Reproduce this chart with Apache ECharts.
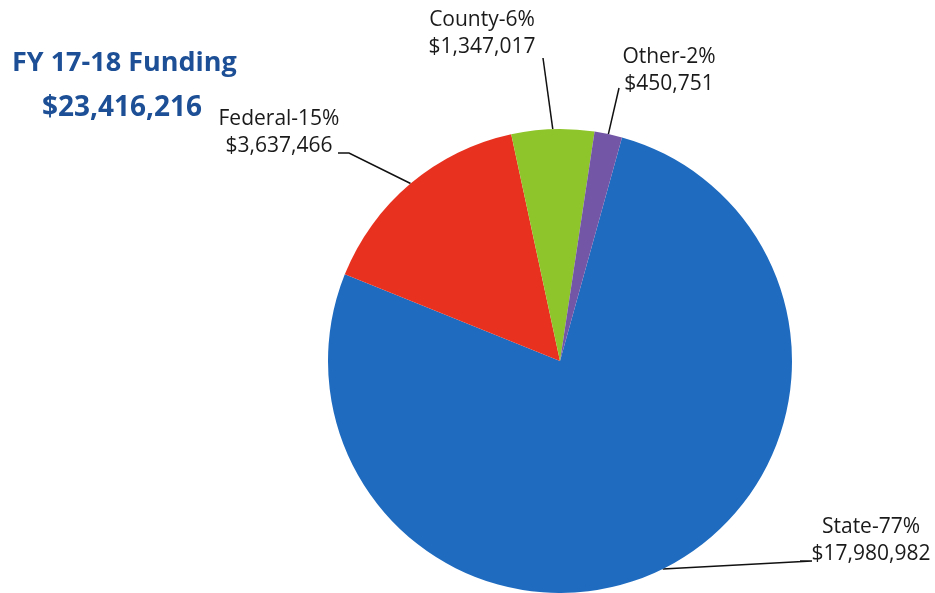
<!DOCTYPE html>
<html><head><meta charset="utf-8">
<script src="https://cdn.jsdelivr.net/npm/echarts@6/dist/echarts.min.js"></script>
<style>html,body{margin:0;padding:0;background:#fff}#c{width:935px;height:593px}</style>
</head><body><div id="c"></div>
<script>
// ---- data ----
const categories = ['State', 'Federal', 'County', 'Other'];
const values = [17980982, 3637466, 1347017, 450751];
const titleText = 'FY 17-18 Funding';

// ---- styles / annotation layout ----
const colors = ['#1E6BC0', '#E8321F', '#8EC52A', '#7356A6'];
const labelLayouts = [
  { x: 871, y: 514, end: [[812, 561], [800, 561]] },
  { x: 279, y: 106, end: [[349, 153], [338, 153]] },
  { x: 482, y: 7,   end: [[543, 58]] },
  { x: 669, y: 44,  end: [[619, 88]] }
];

const fmt = v => '$' + v.toLocaleString('en-US');
const total = values.reduce((a, b) => a + b, 0);

const chart = echarts.init(document.getElementById('c'), null, { renderer: 'canvas' });
chart.setOption({
  animation: false,
  backgroundColor: '#ffffff',
  title: [
    { text: titleText, left: 12, top: 50, padding: 0,
      textStyle: { fontFamily: 'Open Sans', fontWeight: 'bold', fontSize: 27, color: '#1C4F95' } },
    { text: fmt(total), left: 42, top: 94, padding: 0,
      textStyle: { fontFamily: 'Open Sans', fontWeight: 'bold', fontSize: 28, color: '#1C4F95' } }
  ],
  series: [{
    type: 'pie',
    center: [560, 361],
    radius: 232,
    startAngle: 74.5,
    clockwise: true,
    avoidLabelOverlap: false,
    percentPrecision: 0,
    emphasis: { disabled: true },
    data: categories.map((n, i) => ({ name: n, value: values[i], itemStyle: { color: colors[i] } })),
    label: {
      show: true,
      position: 'outside',
      formatter: p => p.name + '-' + p.percent + '%\n' + fmt(p.value),
      fontFamily: 'Open Sans',
      fontSize: 21,
      lineHeight: 27,
      color: '#1a1a1a',
      align: 'center'
    },
    labelLine: {
      show: true,
      length: 10,
      length2: 10,
      smooth: false,
      lineStyle: { color: '#111', width: 1.5 }
    },
    labelLayout: function (params) {
      const L = labelLayouts[params.dataIndex];
      const p0 = params.labelLinePoints ? params.labelLinePoints[0] : null;
      const res = { x: L.x, y: L.y, align: 'center', verticalAlign: 'top' };
      if (p0) res.labelLinePoints = [p0].concat(L.end);
      return res;
    }
  }]
});
</script>
</body></html>
